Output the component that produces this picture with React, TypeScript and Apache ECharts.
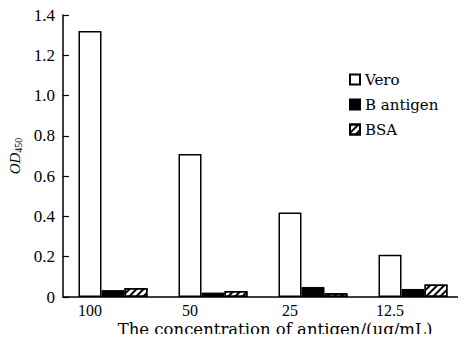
import React, { useEffect, useRef } from "react";
import * as echarts from "echarts";

const categories = ["100", "50", "25", "12.5"];
const veroValues = [1.32, 0.71, 0.42, 0.21];
const bAntigenValues = [0.034, 0.022, 0.05, 0.04];
const bsaValues = [0.045, 0.03, 0.018, 0.062];
const seriesNames = ["Vero", "B antigen", "BSA"];
const xAxisTitle = "The concentration of antigen/(μg/mL)";

const FONT = "'Liberation Serif', 'DejaVu Serif', serif";
const WIDE = "'DejaVu Serif', serif";

export default function App() {
  const ref = useRef<HTMLDivElement>(null);
  useEffect(() => {
    if (!ref.current) return;
    const chart = echarts.init(ref.current, null, { renderer: "svg" });
    const hatch = {
      symbol: "rect",
      color: "#000",
      backgroundColor: "#fff",
      dashArrayX: [1, 0],
      dashArrayY: [2, 3],
      rotation: -Math.PI / 4,
      symbolSize: 1,
    };
    chart.setOption({
      animation: false,
      textStyle: { fontFamily: FONT, color: "#000" },
      grid: {
        left: 63,
        right: 3,
        top: 15,
        bottom: 45,
        containLabel: false,
        outerBoundsMode: "none",
      },
      legend: {
        orient: "vertical",
        left: 344,
        top: 67,
        itemWidth: 10,
        itemHeight: 10,
        itemGap: 10,
        icon: "rect",
        textStyle: { fontFamily: WIDE, fontSize: 15, color: "#000" },
        data: seriesNames,
      },
      xAxis: {
        type: "category",
        data: categories,
        name: xAxisTitle,
        nameLocation: "middle",
        nameGap: 24,
        nameMoveOverlap: false,
        nameTextStyle: {
          fontFamily: WIDE,
          fontSize: 16.5,
          lineHeight: 16,
          color: "#000",
          padding: [0, 0, 0, 24],
        },
        axisLine: { lineStyle: { color: "#000", width: 1.5 } },
        axisTick: { inside: true, length: 4, lineStyle: { color: "#000", width: 1.2 } },
        axisLabel: {
          fontFamily: FONT,
          fontSize: 16,
          lineHeight: 13,
          color: "#000",
          margin: 7,
          padding: [0, 46, 0, 0],
        },
      },
      yAxis: {
        type: "value",
        min: 0,
        max: 1.4,
        interval: 0.2,
        name: "{a|OD}{s|450}",
        nameLocation: "middle",
        nameGap: 40,
        nameMoveOverlap: false,
        nameRotate: 90,
        nameTextStyle: {
          rich: {
            a: { fontFamily: FONT, fontStyle: "italic", fontSize: 15, lineHeight: 16, color: "#000" },
            s: { fontFamily: FONT, fontSize: 10, lineHeight: 16, color: "#000", verticalAlign: "bottom" },
          },
        },
        splitLine: { show: false },
        axisLine: { show: true, lineStyle: { color: "#000", width: 1.5 } },
        axisTick: { show: true, inside: true, length: 6, lineStyle: { color: "#000", width: 1.2 } },
        axisLabel: {
          fontFamily: FONT,
          fontSize: 17,
          color: "#000",
          margin: 8,
          formatter: (v: number) => (v === 0 ? "0" : v.toFixed(1)),
        },
      },
      series: [
        {
          name: seriesNames[0],
          type: "bar",
          data: veroValues,
          barWidth: 23,
          barGap: "0%",
          itemStyle: { color: "#fff", borderColor: "#000", borderWidth: 1.5 },
        },
        {
          name: seriesNames[1],
          type: "bar",
          data: bAntigenValues,
          barWidth: 23,
          barGap: "0%",
          itemStyle: { color: "#000", borderColor: "#000", borderWidth: 1 },
        },
        {
          name: seriesNames[2],
          type: "bar",
          data: bsaValues,
          barWidth: 23,
          barGap: "0%",
          itemStyle: { color: "#fff", borderColor: "#000", borderWidth: 1.5, decal: hatch },
        },
      ],
    });
    return () => chart.dispose();
  }, []);
  return <div ref={ref} style={{ width: 466, height: 342, margin: -8 }} />;
}
